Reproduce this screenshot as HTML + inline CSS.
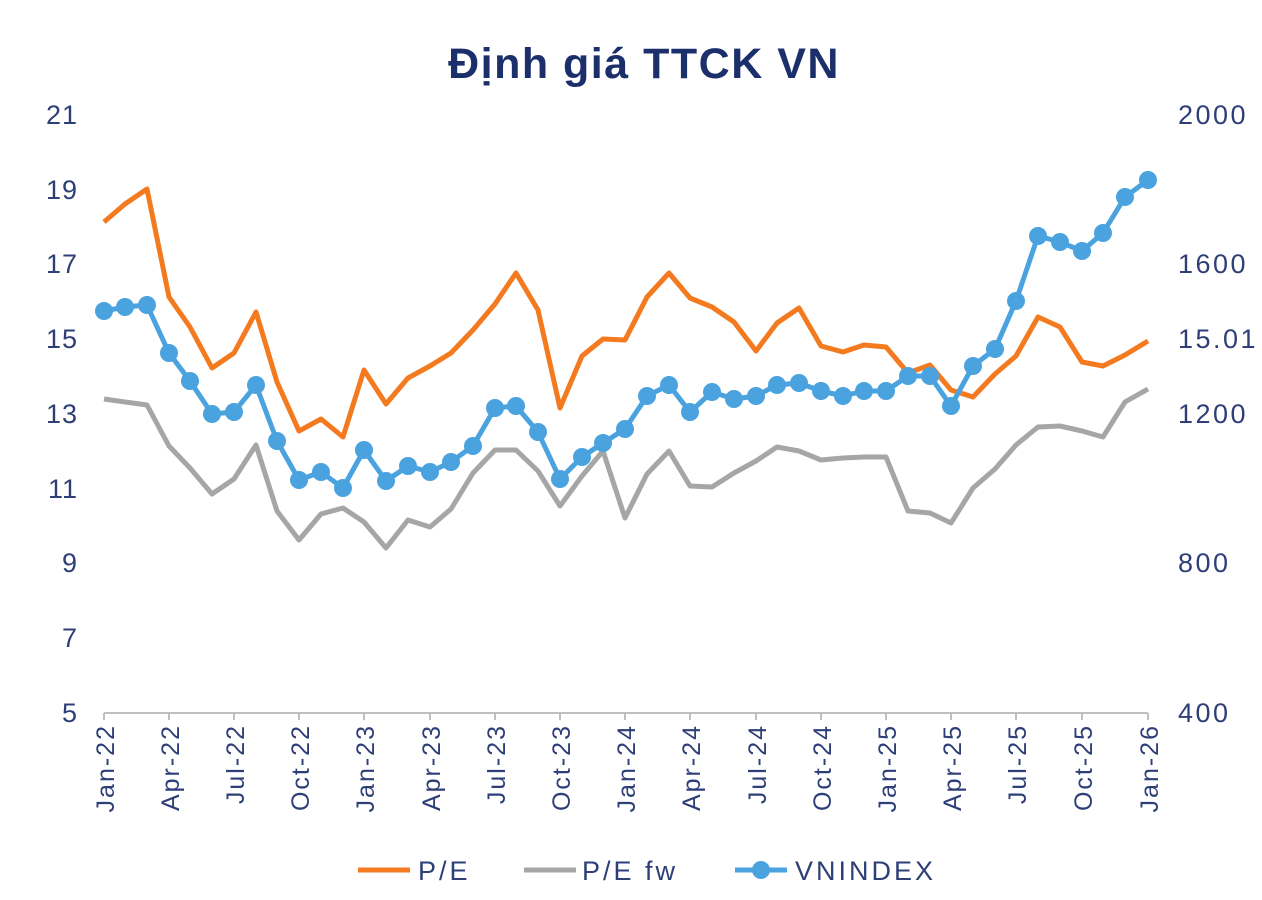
<!DOCTYPE html>
<html><head><meta charset="utf-8"><style>html,body{margin:0;padding:0;background:#fff}svg{display:block}</style></head>
<body>
<svg width="1262" height="900" viewBox="0 0 1262 900" xmlns="http://www.w3.org/2000/svg" font-family="Liberation Sans, sans-serif">
<rect width="1262" height="900" fill="#fff"/>
<text x="644" y="78" text-anchor="middle" font-size="43" font-weight="bold" letter-spacing="1.5" fill="#1b2f6b">Định giá TTCK VN</text>
<g font-size="27" fill="#2e3f78" text-anchor="end" letter-spacing="1">
<text x="78" y="124">21</text><text x="78" y="199">19</text><text x="78" y="273">17</text><text x="78" y="348">15</text><text x="78" y="423">13</text><text x="78" y="498">11</text><text x="78" y="572">9</text><text x="78" y="647">7</text><text x="78" y="722">5</text>
</g>
<g font-size="27" fill="#2e3f78" text-anchor="start" letter-spacing="2.5">
<text x="1178" y="124">2000</text><text x="1178" y="273">1600</text><text x="1178" y="348">15.01</text><text x="1178" y="423">1200</text><text x="1178" y="572">800</text><text x="1178" y="722">400</text>
</g>
<line x1="104" y1="713" x2="1148" y2="713" stroke="#bfbfbf" stroke-width="2"/>
<g stroke="#bfbfbf" stroke-width="2">
<line x1="104" y1="713" x2="104" y2="720"/><line x1="169" y1="713" x2="169" y2="720"/><line x1="234" y1="713" x2="234" y2="720"/><line x1="299" y1="713" x2="299" y2="720"/><line x1="364" y1="713" x2="364" y2="720"/><line x1="430" y1="713" x2="430" y2="720"/><line x1="495" y1="713" x2="495" y2="720"/><line x1="560" y1="713" x2="560" y2="720"/><line x1="625" y1="713" x2="625" y2="720"/><line x1="690" y1="713" x2="690" y2="720"/><line x1="756" y1="713" x2="756" y2="720"/><line x1="821" y1="713" x2="821" y2="720"/><line x1="886" y1="713" x2="886" y2="720"/><line x1="951" y1="713" x2="951" y2="720"/><line x1="1016" y1="713" x2="1016" y2="720"/><line x1="1082" y1="713" x2="1082" y2="720"/><line x1="1148" y1="713" x2="1148" y2="720"/>
</g>
<g font-size="25" fill="#2e3f78" text-anchor="end" letter-spacing="2">
<text transform="translate(114,724) rotate(-90)">Jan-22</text>
<text transform="translate(179,724) rotate(-90)">Apr-22</text>
<text transform="translate(244,724) rotate(-90)">Jul-22</text>
<text transform="translate(309,724) rotate(-90)">Oct-22</text>
<text transform="translate(374,724) rotate(-90)">Jan-23</text>
<text transform="translate(440,724) rotate(-90)">Apr-23</text>
<text transform="translate(505,724) rotate(-90)">Jul-23</text>
<text transform="translate(570,724) rotate(-90)">Oct-23</text>
<text transform="translate(635,724) rotate(-90)">Jan-24</text>
<text transform="translate(700,724) rotate(-90)">Apr-24</text>
<text transform="translate(766,724) rotate(-90)">Jul-24</text>
<text transform="translate(831,724) rotate(-90)">Oct-24</text>
<text transform="translate(896,724) rotate(-90)">Jan-25</text>
<text transform="translate(961,724) rotate(-90)">Apr-25</text>
<text transform="translate(1026,724) rotate(-90)">Jul-25</text>
<text transform="translate(1092,724) rotate(-90)">Oct-25</text>
<text transform="translate(1158,724) rotate(-90)">Jan-26</text>
</g>
<polyline fill="none" stroke="#a6a6a6" stroke-width="5" stroke-linejoin="round" points="104,399 125,402 147,405 169,446 190,468 212,494 234,479 256,445 277,511 299,540 321,514 343,508 364,522 386,548 408,520 430,527 451,509 473,473 495,450 516,450 538,471 560,506 582,476 603,451 625,518 647,474 669,451 690,486 712,487 734,473 756,461 777,447 799,451 821,460 843,458 864,457 886,457 908,511 930,513 951,523 973,488 995,469 1016,445 1038,427 1060,426 1082,431 1103,437 1125,402 1148,389"/>
<polyline fill="none" stroke="#f47a20" stroke-width="5" stroke-linejoin="round" points="104,222 125,204 147,189 169,297 190,327 212,368 234,353 256,312 277,382 299,431 321,419 343,437 364,370 386,404 408,378 430,366 451,353 473,330 495,304 516,273 538,310 560,408 582,356 603,339 625,340 647,297 669,273 690,298 712,307 734,322 756,351 777,323 799,308 821,346 843,352 864,345 886,347 908,373 930,365 951,390 973,397 995,374 1016,356 1038,317 1060,327 1082,362 1103,366 1125,355 1148,341"/>
<g fill="#4aa3df">
<polyline fill="none" stroke="#4aa3df" stroke-width="5" stroke-linejoin="round" points="104,311 125,307 147,305 169,353 190,381 212,414 234,412 256,385 277,441 299,480 321,472 343,488 364,450 386,481 408,466 430,472 451,462 473,446 495,408 516,406 538,432 560,479 582,457 603,443 625,429 647,396 669,385 690,412 712,392 734,399 756,396 777,385 799,383 821,391 843,396 864,391 886,391 908,376 930,376 951,406 973,366 995,349 1016,301 1038,236 1060,242 1082,251 1103,233 1125,197 1148,180"/>
<circle cx="104" cy="311" r="9"/><circle cx="125" cy="307" r="9"/><circle cx="147" cy="305" r="9"/><circle cx="169" cy="353" r="9"/><circle cx="190" cy="381" r="9"/><circle cx="212" cy="414" r="9"/><circle cx="234" cy="412" r="9"/><circle cx="256" cy="385" r="9"/><circle cx="277" cy="441" r="9"/><circle cx="299" cy="480" r="9"/><circle cx="321" cy="472" r="9"/><circle cx="343" cy="488" r="9"/><circle cx="364" cy="450" r="9"/><circle cx="386" cy="481" r="9"/><circle cx="408" cy="466" r="9"/><circle cx="430" cy="472" r="9"/><circle cx="451" cy="462" r="9"/><circle cx="473" cy="446" r="9"/><circle cx="495" cy="408" r="9"/><circle cx="516" cy="406" r="9"/><circle cx="538" cy="432" r="9"/><circle cx="560" cy="479" r="9"/><circle cx="582" cy="457" r="9"/><circle cx="603" cy="443" r="9"/><circle cx="625" cy="429" r="9"/><circle cx="647" cy="396" r="9"/><circle cx="669" cy="385" r="9"/><circle cx="690" cy="412" r="9"/><circle cx="712" cy="392" r="9"/><circle cx="734" cy="399" r="9"/><circle cx="756" cy="396" r="9"/><circle cx="777" cy="385" r="9"/><circle cx="799" cy="383" r="9"/><circle cx="821" cy="391" r="9"/><circle cx="843" cy="396" r="9"/><circle cx="864" cy="391" r="9"/><circle cx="886" cy="391" r="9"/><circle cx="908" cy="376" r="9"/><circle cx="930" cy="376" r="9"/><circle cx="951" cy="406" r="9"/><circle cx="973" cy="366" r="9"/><circle cx="995" cy="349" r="9"/><circle cx="1016" cy="301" r="9"/><circle cx="1038" cy="236" r="9"/><circle cx="1060" cy="242" r="9"/><circle cx="1082" cy="251" r="9"/><circle cx="1103" cy="233" r="9"/><circle cx="1125" cy="197" r="9"/><circle cx="1148" cy="180" r="9"/>
</g>
<g font-size="27" fill="#2e3f78" letter-spacing="3">
<line x1="358" y1="870" x2="410" y2="870" stroke="#f47a20" stroke-width="5"/>
<text x="418" y="880">P/E</text>
<line x1="524" y1="870" x2="576" y2="870" stroke="#a6a6a6" stroke-width="5"/>
<text x="582" y="880">P/E fw</text>
<line x1="735" y1="870" x2="787" y2="870" stroke="#4aa3df" stroke-width="5"/>
<circle cx="761" cy="870" r="9" fill="#4aa3df"/>
<text x="795" y="880">VNINDEX</text>
</g>
</svg>
</body></html>
